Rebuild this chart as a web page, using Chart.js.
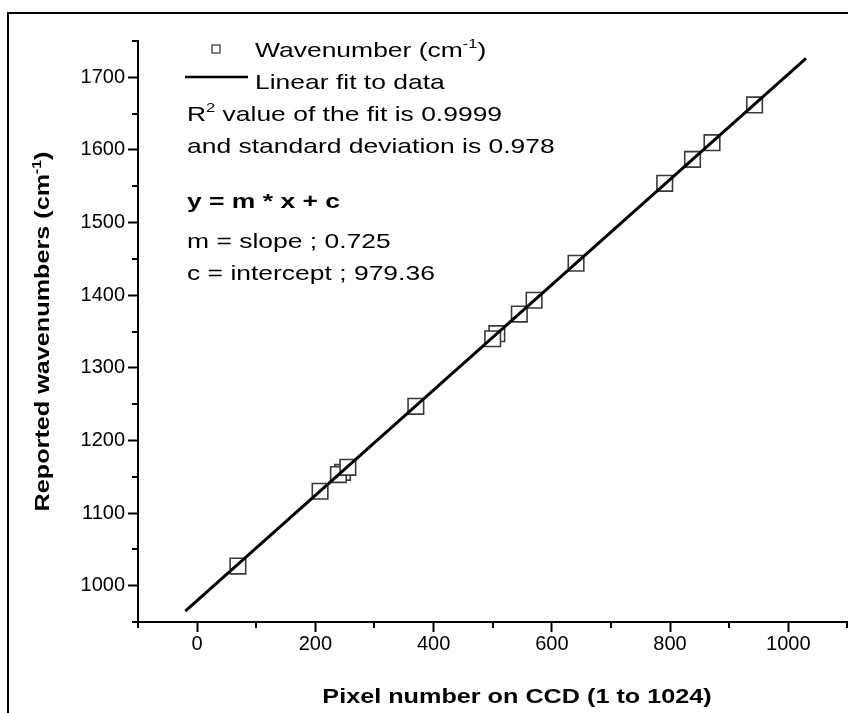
<!DOCTYPE html>
<html><head><meta charset="utf-8">
<script src="https://cdn.jsdelivr.net/npm/chart.js@4/dist/chart.umd.min.js"></script>
<style>
html,body{margin:0;padding:0;background:#fff;overflow:hidden;width:848px;height:713px;}
#wrap{position:absolute;left:0;top:0;width:860px;height:713px;}
</style></head><body>
<div id="wrap"><canvas id="c" width="860" height="713"></canvas></div>
<script>
// ---- data ----
const pixelNumbers = [246, 507, 69, 208, 239, 255, 370, 500, 545, 570, 641, 791, 838, 871, 943];
const wavenumbers  = [1156, 1347, 1027, 1130, 1153, 1163, 1247, 1340, 1374, 1393, 1444, 1554, 1587, 1610, 1662];
const fitX = [-20, 1030];
const fitY = [964.9, 1726.1];
const xTickLabels = [0, 200, 400, 600, 800, 1000];
const yTickLabels = [1000, 1100, 1200, 1300, 1400, 1500, 1600, 1700];

const FAM = '"Liberation Sans", Arial, Helvetica, sans-serif';
const SX = 1.26;

function partsWidth(ctx, parts, size, bold) {
  let w = 0;
  for (const p of parts) {
    const s = p.sup ? size * 0.62 : size;
    ctx.font = (bold ? 'bold ' : '') + s + 'px ' + FAM;
    w += ctx.measureText(p.t).width;
  }
  return w;
}
function drawParts(ctx, parts, size, bold) {
  let cx = 0;
  for (const p of parts) {
    const s = p.sup ? size * 0.62 : size;
    ctx.font = (bold ? 'bold ' : '') + s + 'px ' + FAM;
    ctx.fillText(p.t, cx, p.sup ? -size * 0.42 : 0);
    cx += ctx.measureText(p.t).width;
  }
}
function textAt(ctx, parts, x, y, size, bold, align) {
  ctx.save();
  ctx.fillStyle = '#000';
  ctx.textBaseline = 'alphabetic';
  ctx.textAlign = 'left';
  ctx.translate(x, y);
  ctx.scale(SX, 1);
  let off = 0;
  if (align === 'center') off = -partsWidth(ctx, parts, size, bold) / 2;
  ctx.translate(off, 0);
  drawParts(ctx, parts, size, bold);
  ctx.restore();
}

const decor = {
  id: 'decor',
  beforeDraw(chart) {
    const ctx = chart.ctx;
    ctx.save();
    ctx.fillStyle = '#fff';
    ctx.fillRect(0, 0, chart.width, chart.height);
    ctx.strokeStyle = '#000';
    ctx.lineWidth = 2;
    ctx.strokeRect(8, 13, 1200, 1200);
    ctx.restore();
  },
  afterDraw(chart) {
    const ctx = chart.ctx;
    const xs = chart.scales.x, ys = chart.scales.y;
    // minor ticks
    ctx.save();
    ctx.strokeStyle = '#000';
    ctx.lineWidth = 2;
    ctx.beginPath();
    xs.ticks.forEach(t => {
      if (!xTickLabels.includes(t.value)) {
        const px = Math.round(xs.getPixelForValue(t.value));
        ctx.moveTo(px, xs.top); ctx.lineTo(px, xs.top + 6);
      }
    });
    ys.ticks.forEach(t => {
      if (!yTickLabels.includes(t.value)) {
        const py = Math.round(ys.getPixelForValue(t.value));
        ctx.moveTo(ys.right, py); ctx.lineTo(ys.right - 6, py);
      }
    });
    ctx.stroke();
    ctx.restore();

    // legend
    ctx.save();
    ctx.strokeStyle = '#333';
    ctx.lineWidth = 1.2;
    ctx.strokeRect(212, 45, 8, 8);
    ctx.strokeStyle = '#000';
    ctx.lineWidth = 2.5;
    ctx.beginPath(); ctx.moveTo(185, 77); ctx.lineTo(248, 77); ctx.stroke();
    ctx.restore();
    textAt(ctx, [{t: 'Wavenumber (cm'}, {t: '-1', sup: true}, {t: ')'}], 255, 57, 21, false);
    textAt(ctx, [{t: 'Linear fit to data'}], 255, 89, 21, false);
    textAt(ctx, [{t: 'R'}, {t: '2', sup: true}, {t: ' value of the fit is 0.9999'}], 187, 121, 21, false);
    textAt(ctx, [{t: 'and standard deviation is 0.978'}], 187, 153, 21, false);
    textAt(ctx, [{t: 'y = m * x + c'}], 187, 208, 21, true);
    textAt(ctx, [{t: 'm = slope ; 0.725'}], 187, 248, 21, false);
    textAt(ctx, [{t: 'c = intercept ; 979.36'}], 187, 280, 21, false);

    // axis titles
    textAt(ctx, [{t: 'Pixel number on CCD (1 to 1024)'}], 517, 703, 20, true, 'center');
    ctx.save();
    ctx.translate(49, (ys.top + ys.bottom) / 2);
    ctx.rotate(-Math.PI / 2);
    textAt(ctx, [{t: 'Reported wavenumbers (cm'}, {t: '-1', sup: true}, {t: ')'}], 0, 0, 20, true, 'center');
    ctx.restore();
  }
};

const tickFont = {family: FAM, size: 20};

new Chart(document.getElementById('c'), {
  type: 'scatter',
  data: {
    datasets: [
      {
        type: 'line',
        label: 'Linear fit to data',
        data: fitX.map((x, i) => ({x: x, y: fitY[i]})),
        borderColor: '#000',
        borderWidth: 3,
        pointRadius: 0,
        fill: false,
        order: 0
      },
      {
        label: 'Wavenumber',
        data: pixelNumbers.map((x, i) => ({x: x, y: wavenumbers[i]})),
        pointStyle: 'rect',
        pointRadius: 11,
        pointBorderWidth: 1.6,
        borderColor: '#3a3a3a',
        backgroundColor: '#fff',
        showLine: false,
        order: 1
      }
    ]
  },
  options: {
    responsive: false,
    animation: false,
    devicePixelRatio: 1,
    layout: {padding: {top: 41, right: 6, left: 0, bottom: 0}},
    plugins: {legend: {display: false}, tooltip: {enabled: false}},
    scales: {
      x: {
        type: 'linear', min: -100, max: 1100,
        ticks: {
          stepSize: 100, maxTicksLimit: 100, autoSkip: false, maxRotation: 0,
          font: tickFont, color: '#000', padding: 0,
          callback: v => xTickLabels.includes(v) ? String(v) : ''
        },
        grid: {
          drawOnChartArea: false, drawTicks: true, tickLength: 10, tickWidth: 2,
          tickColor: c => (c.tick && xTickLabels.includes(c.tick.value)) ? '#000' : 'rgba(0,0,0,0)'
        },
        border: {display: true, color: '#000', width: 2},
        afterFit: s => { s.height = 91; }
      },
      y: {
        type: 'linear', min: 950, max: 1750,
        ticks: {
          stepSize: 50, maxTicksLimit: 100, autoSkip: false,
          font: tickFont, color: '#000', padding: 3,
          callback: v => yTickLabels.includes(v) ? String(v) : ''
        },
        grid: {
          drawOnChartArea: false, drawTicks: true, tickLength: 10, tickWidth: 2,
          tickColor: c => (c.tick && yTickLabels.includes(c.tick.value)) ? '#000' : 'rgba(0,0,0,0)'
        },
        border: {display: true, color: '#000', width: 2},
        afterFit: s => { s.width = 138; }
      }
    }
  },
  plugins: [decor]
});
</script>
</body></html>
